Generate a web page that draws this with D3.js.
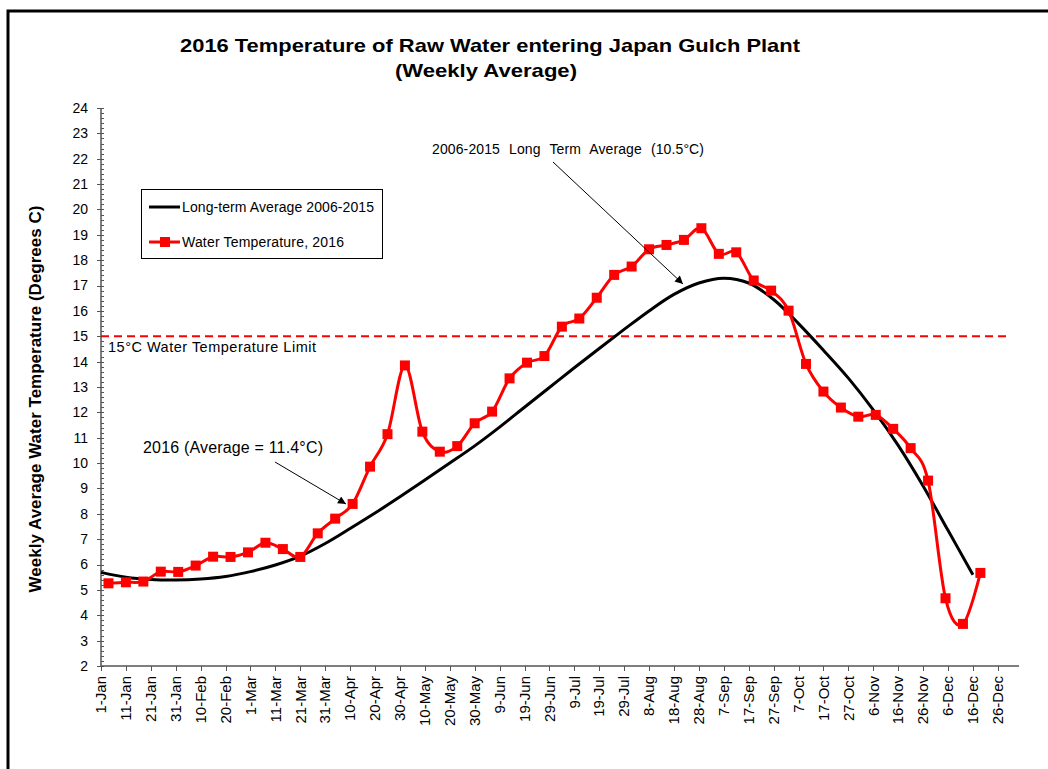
<!DOCTYPE html>
<html>
<head>
<meta charset="utf-8">
<script src="https://cdn.jsdelivr.net/npm/d3@7/dist/d3.min.js"></script>
<style>
    body { margin: 0; background: #fff; }
    svg { display: block; font-family: "Liberation Sans", Arial, sans-serif; }
</style>
</head>
<body>
<svg id="grafico" width="1048" height="769"></svg>
<script>

// etiquetas del eje x (cada 10 dias desde 1-Jan)
var etiquetasX = ["1-Jan", "11-Jan", "21-Jan", "31-Jan", "10-Feb", "20-Feb", "1-Mar", "11-Mar", "21-Mar",
    "31-Mar", "10-Apr", "20-Apr", "30-Apr", "10-May", "20-May", "30-May", "9-Jun", "19-Jun", "29-Jun",
    "9-Jul", "19-Jul", "29-Jul", "8-Aug", "18-Aug", "28-Aug", "7-Sep", "17-Sep", "27-Sep", "7-Oct",
    "17-Oct", "27-Oct", "6-Nov", "16-Nov", "26-Nov", "6-Dec", "16-Dec", "26-Dec"];
var diasEtiquetas = [0, 10, 20, 30, 40, 50, 60, 70, 80, 90, 100, 110, 120, 130, 140, 150, 160, 170, 180,
    190, 200, 210, 220, 230, 240, 250, 260, 270, 280, 290, 300, 310, 320, 330, 340, 350, 360];

var ticksY = [2, 3, 4, 5, 6, 7, 8, 9, 10, 11, 12, 13, 14, 15, 16, 17, 18, 19, 20, 21, 22, 23, 24];

// temperatura semanal 2016 (dia del anio, grados C)
var diasSemana = [3, 10, 17, 24, 31, 38, 45, 52, 59, 66, 73, 80, 87, 94, 101, 108, 115, 122, 129, 136,
    143, 150, 157, 164, 171, 178, 185, 192, 199, 206, 213, 220, 227, 234, 241, 248, 255, 262, 269, 276,
    283, 290, 297, 304, 311, 318, 325, 332, 339, 346, 353];
var temp2016 = [5.26, 5.30, 5.33, 5.72, 5.71, 5.96, 6.31, 6.30, 6.48, 6.86, 6.61, 6.30, 7.23, 7.81, 8.39,
    9.86, 11.14, 13.85, 11.24, 10.45, 10.67, 11.57, 12.03, 13.34, 13.96, 14.22, 15.38, 15.70, 16.52, 17.42,
    17.75, 18.43, 18.60, 18.80, 19.26, 18.25, 18.31, 17.20, 16.80, 16.01, 13.91, 12.82, 12.19, 11.83,
    11.90, 11.35, 10.59, 9.31, 4.67, 3.66, 5.67];

// promedio de largo plazo 2006-2015
var diasPromedio = [0, 10, 20, 30, 40, 50, 60, 70, 80, 90, 100, 110, 120, 130, 140, 150, 160, 170, 180,
    190, 200, 210, 220, 230, 240, 250, 260, 270, 280, 290, 300, 310, 320, 330, 340, 350];
var promedioLargo = [5.69, 5.50, 5.41, 5.39, 5.43, 5.53, 5.72, 5.98, 6.33, 6.83, 7.42, 8.03, 8.67, 9.33,
    10.0, 10.68, 11.42, 12.2, 12.98, 13.76, 14.52, 15.27, 16.0, 16.65, 17.1, 17.29, 17.1, 16.45, 15.5,
    14.45, 13.35, 12.1, 10.7, 9.1, 7.35, 5.6];

var limite = 15;

var svg = d3.select("#grafico");

// borde exterior del grafico
svg.append("path")
    .attr("d", "M8,780 V11 H1060")
    .attr("fill", "none")
    .attr("stroke", "#000")
    .attr("stroke-width", 3);

var x = d3.scaleLinear().domain([0, 368.5]).range([101, 1019]);
var y = d3.scaleLinear().domain([2, 24]).range([666, 108]);

// titulo
svg.append("text")
    .attr("x", 490).attr("y", 52)
    .attr("text-anchor", "middle")
    .attr("font-size", 19).attr("font-weight", "bold")
    .attr("textLength", 620).attr("lengthAdjust", "spacingAndGlyphs")
    .text("2016 Temperature of Raw Water entering Japan Gulch Plant");
svg.append("text")
    .attr("x", 486).attr("y", 77)
    .attr("text-anchor", "middle")
    .attr("font-size", 19).attr("font-weight", "bold")
    .attr("textLength", 182).attr("lengthAdjust", "spacingAndGlyphs")
    .text("(Weekly Average)");

// eje y
var ejeY = svg.append("g");
ejeY.append("line")
    .attr("x1", x(0)).attr("x2", x(0))
    .attr("y1", y(24)).attr("y2", y(2))
    .attr("stroke", "#555").attr("stroke-width", 1.5);

var menores = d3.range(2, 24, 0.2);
ejeY.selectAll(".menor")
    .data(menores)
    .enter().append("line")
    .attr("class", "menor")
    .attr("x1", x(0)).attr("x2", x(0) + 3)
    .attr("y1", function (d) { return Math.round(y(d)) + 0.5; })
    .attr("y2", function (d) { return Math.round(y(d)) + 0.5; })
    .attr("stroke", "#555");

ejeY.selectAll(".mayor")
    .data(ticksY)
    .enter().append("line")
    .attr("class", "mayor")
    .attr("x1", x(0) - 4).attr("x2", x(0) + 3)
    .attr("y1", function (d) { return Math.round(y(d)) + 0.5; })
    .attr("y2", function (d) { return Math.round(y(d)) + 0.5; })
    .attr("stroke", "#555");

ejeY.selectAll(".etq")
    .data(ticksY)
    .enter().append("text")
    .attr("class", "etq")
    .attr("x", 88)
    .attr("y", function (d) { return y(d); })
    .attr("dy", "0.35em")
    .attr("text-anchor", "end")
    .attr("font-size", 14)
    .text(function (d) { return d; });

svg.append("text")
    .attr("transform", "translate(41,399) rotate(-90)")
    .attr("text-anchor", "middle")
    .attr("font-size", 17).attr("font-weight", "bold")
    .text("Weekly Average Water Temperature (Degrees C)");

// eje x
var ejeX = svg.append("g");
ejeX.append("line")
    .attr("x1", x(0)).attr("x2", x(368.5))
    .attr("y1", y(2)).attr("y2", y(2))
    .attr("stroke", "#555").attr("stroke-width", 1.5);

ejeX.selectAll(".tx")
    .data(diasEtiquetas)
    .enter().append("line")
    .attr("class", "tx")
    .attr("x1", function (d) { return Math.round(x(d)) + 0.5; })
    .attr("x2", function (d) { return Math.round(x(d)) + 0.5; })
    .attr("y1", y(2)).attr("y2", y(2) + 5)
    .attr("stroke", "#555");

ejeX.selectAll(".etx")
    .data(diasEtiquetas)
    .enter().append("text")
    .attr("class", "etx")
    .attr("transform", function (d) { return "translate(" + x(d) + "," + (y(2) + 10) + ") rotate(-90)"; })
    .attr("dy", "0.35em")
    .attr("text-anchor", "end")
    .attr("font-size", 15)
    .text(function (d, i) { return etiquetasX[i]; });

// linea limite 15 C
svg.append("line")
    .attr("x1", x(0)).attr("x2", 1006)
    .attr("y1", y(limite)).attr("y2", y(limite))
    .attr("stroke", "#ff0000").attr("stroke-width", 2)
    .attr("stroke-dasharray", "8,5");
svg.append("text")
    .attr("x", 108).attr("y", 352)
    .attr("font-size", 14.5)
    .attr("textLength", 208).attr("lengthAdjust", "spacing")
    .text("15°C Water Temperature  Limit");

// promedio largo plazo
var lineaPromedio = d3.line()
    .x(function (d, i) { return x(diasPromedio[i]); })
    .y(function (d) { return y(d); })
    .curve(d3.curveCatmullRom.alpha(0.5));
svg.append("path")
    .datum(promedioLargo)
    .attr("d", lineaPromedio)
    .attr("fill", "none")
    .attr("stroke", "#000")
    .attr("stroke-width", 3);

// temperatura 2016
var linea2016 = d3.line()
    .x(function (d, i) { return x(diasSemana[i]); })
    .y(function (d) { return y(d); })
    .curve(d3.curveCatmullRom.alpha(0));
svg.append("path")
    .datum(temp2016)
    .attr("d", linea2016)
    .attr("fill", "none")
    .attr("stroke", "#ff0000")
    .attr("stroke-width", 3);

svg.selectAll(".marca")
    .data(temp2016)
    .enter().append("rect")
    .attr("class", "marca")
    .attr("x", function (d, i) { return x(diasSemana[i]) - 5; })
    .attr("y", function (d) { return y(d) - 5; })
    .attr("width", 10).attr("height", 10)
    .attr("fill", "#ff0000");

// flechas de anotacion
var defs = svg.append("defs");
defs.append("marker")
    .attr("id", "flecha")
    .attr("viewBox", "0 0 10 10")
    .attr("refX", 10).attr("refY", 5)
    .attr("markerWidth", 11).attr("markerHeight", 8)
    .attr("markerUnits", "userSpaceOnUse")
    .attr("orient", "auto")
    .append("path")
    .attr("d", "M0,0 L10,5 L0,10 Z")
    .attr("fill", "#000");

svg.append("line")
    .attr("x1", 553).attr("y1", 162)
    .attr("x2", 683).attr("y2", 284)
    .attr("stroke", "#000").attr("stroke-width", 1)
    .attr("marker-end", "url(#flecha)");
svg.append("text")
    .attr("x", 432).attr("y", 154)
    .attr("font-size", 14)
    .attr("word-spacing", 5)
    .attr("textLength", 272).attr("lengthAdjust", "spacing")
    .text("2006-2015 Long Term Average (10.5°C)");

svg.append("line")
    .attr("x1", 275).attr("y1", 462)
    .attr("x2", 346).attr("y2", 504)
    .attr("stroke", "#000").attr("stroke-width", 1)
    .attr("marker-end", "url(#flecha)");
svg.append("text")
    .attr("x", 143).attr("y", 453)
    .attr("font-size", 16)
    .attr("textLength", 180).attr("lengthAdjust", "spacing")
    .text("2016 (Average = 11.4°C)");

// leyenda
var leyenda = svg.append("g");
leyenda.append("rect")
    .attr("x", 141.5).attr("y", 189.5)
    .attr("width", 241).attr("height", 69)
    .attr("fill", "#fff").attr("stroke", "#000");
leyenda.append("line")
    .attr("x1", 149).attr("x2", 180).attr("y1", 207).attr("y2", 207)
    .attr("stroke", "#000").attr("stroke-width", 3);
leyenda.append("text")
    .attr("x", 182).attr("y", 212)
    .attr("font-size", 14)
    .attr("textLength", 192).attr("lengthAdjust", "spacing")
    .text("Long-term Average 2006-2015");
leyenda.append("line")
    .attr("x1", 149).attr("x2", 180).attr("y1", 242).attr("y2", 242)
    .attr("stroke", "#ff0000").attr("stroke-width", 3);
leyenda.append("rect")
    .attr("x", 160).attr("y", 237).attr("width", 10).attr("height", 10)
    .attr("fill", "#ff0000");
leyenda.append("text")
    .attr("x", 182).attr("y", 247)
    .attr("font-size", 14)
    .attr("textLength", 162).attr("lengthAdjust", "spacing")
    .text("Water Temperature, 2016");

</script>
</body>
</html>
